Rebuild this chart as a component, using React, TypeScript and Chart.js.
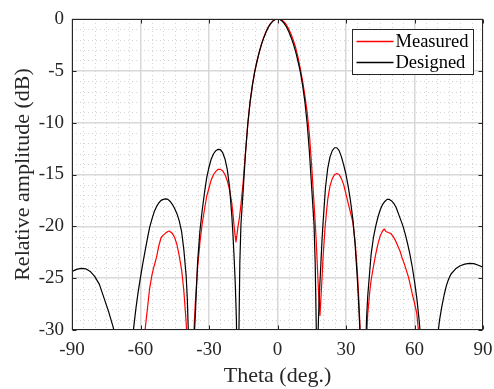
import React, { useEffect, useRef } from "react";
import { Chart, registerables } from "chart.js";

Chart.register(...registerables);

// Designed pattern (black)
const designedTheta = [
  -90, -88, -86, -84, -82, -80, -78, -76, -74, -72, -71, -70, -69, -68, -67.4, -67, -66, -65, -64, -63,
  -62, -61, -60, -59, -58, -57, -56, -55, -54, -53, -52, -51, -50, -49, -48, -47, -46, -45, -44, -43,
  -42, -41, -40, -39.5, -39, -38.5, -37.8, -37.5, -37, -36.5, -36, -35.5, -35, -34, -33, -32, -31, -30,
  -29, -28, -27, -26, -25, -24, -23, -22, -21, -20, -19.5, -19, -18.5, -18, -17.7, -17.4, -17, -16.5,
  -16, -15, -14, -13, -12, -11, -10, -9, -8, -7, -6, -5, -4, -3, -2, -1, 0,
  1, 2, 3, 4, 5, 6, 7, 8, 9, 10, 11, 12, 13, 14, 15, 16, 16.5, 17, 17.3, 17.7, 18, 18.5, 19, 19.5, 20,
  21, 22, 23, 24, 25, 26, 27, 28, 29, 30, 31, 32, 33, 34, 35, 35.5, 36, 36.5, 37, 37.4, 38, 38.5, 39,
  39.5, 40, 41, 42, 43, 44, 45, 46, 47, 48, 49, 50, 51, 52, 53, 54, 55, 56, 57, 58, 59, 60, 61, 62, 63,
  64, 65, 66, 66.5, 67, 68, 69, 70, 71, 72, 73, 74, 75, 76, 78, 80, 82, 84, 86, 88, 90,
];
const designedDb = [
  -24.35, -24.15, -24.05, -24.1, -24.35, -24.85, -25.6, -26.9, -28.2, -29.7, -30.7, -32.2, -34.5, -38.5, -50, -44, -38, -34.5, -32, -29.8,
  -27.9, -26.3, -24.9, -23.6, -22.4, -21.2, -20.1, -19.3, -18.6, -18.1, -17.75, -17.5, -17.4, -17.35, -17.4, -17.6, -17.9, -18.3, -18.8, -19.5,
  -20.5, -22.3, -24.8, -27, -30.5, -35, -50, -40, -34, -30.8, -28.6, -26, -23.5, -20.5, -18.5, -16.8, -15.3, -14.3,
  -13.5, -13.0, -12.7, -12.57, -12.6, -12.9, -13.5, -14.5, -16.2, -19.0, -20.8, -23, -25.5, -29, -33, -50, -32, -23.5,
  -19.8, -16.4, -12.9, -10.1, -8.0, -6.4, -5.1, -4.1, -3.2, -2.45, -1.8, -1.25, -0.8, -0.45, -0.2, -0.05, 0,
  -0.05, -0.2, -0.45, -0.8, -1.25, -1.8, -2.45, -3.2, -4.1, -5.1, -6.4, -8.0, -10.1, -12.9, -16.4, -19.8, -23.5, -30, -50, -31, -28.5, -25.8, -23.6, -21.3, -19.5,
  -16.3, -14.4, -13.3, -12.7, -12.42, -12.42, -12.7, -13.3, -14.1, -15.0, -16.2, -17.6, -19.3, -21.8, -25.2, -27.3, -29.6, -33, -40, -55, -42, -33, -28.9,
  -26.8, -25.4, -22.7, -21.1, -20.0, -19.1, -18.4, -17.9, -17.6, -17.4, -17.4, -17.55, -17.8, -18.2, -18.8, -19.4, -20.0, -20.8, -21.7, -22.7, -23.9, -25.3, -26.9, -29.0, -31.5,
  -35, -39, -46, -55, -46, -38, -33.5, -30.8, -29, -27.7, -26.6, -25.7, -25.05, -24.6, -24.1, -23.8, -23.65, -23.57, -23.6, -23.75, -23.95,
];

// Measured pattern (red)
const measuredTheta = [
  -59, -58.5, -58, -57, -56, -55, -54, -53, -52, -51, -50, -49, -48, -47.4, -46, -45, -44, -43, -42, -41.5,
  -41, -40.5, -40, -39.5, -39, -38.2, -37.5, -37, -36.5, -36, -35, -34, -33, -32, -31, -30, -29, -28, -27, -26,
  -25, -24, -23, -22, -21, -20.5, -20, -19.5, -19, -18.5, -18.2, -17.8, -17.3, -16.7, -16, -15, -14, -13, -12, -11,
  -10, -9, -8, -7, -6, -5, -4, -3, -2, -1, 0,
  1, 2, 3, 4, 5, 6, 7, 8, 9, 10, 11, 12, 13, 14, 15, 16, 16.6, 17, 17.7, 18.2, 18.6, 19, 19.5, 20, 20.8,
  21.5, 22, 23, 24, 25, 26, 27, 28, 29, 30, 31, 32, 33, 34, 35, 35.5, 36, 36.5, 37, 37.8, 38.5, 39, 39.5, 40,
  40.5, 41, 42, 43, 44, 45, 46, 46.8, 47.5, 48.5, 49.7, 50.5, 51.5, 52.5, 53.7, 54.5, 55.5, 56.5, 57.3, 58,
  59, 60, 61, 61.7, 62.3,
];
const measuredDb = [
  -34, -31.5, -30, -28, -26, -24.7, -23.8, -23.0, -21.9, -21.1, -20.85, -20.65, -20.5, -20.45, -20.7, -21.1, -21.8, -22.9, -24.2, -25.2,
  -26.3, -27.75, -29.3, -31.5, -35, -45, -36, -32.5, -29.6, -27.4, -24, -21.6, -19.8, -18.4, -17.1, -16.3, -15.5, -15.0, -14.7, -14.5,
  -14.5, -14.65, -15.0, -15.6, -16.5, -17.1, -17.8, -18.8, -20.0, -21.0, -21.5, -20.9, -20.0, -19.2, -17.9, -15.6, -12.8, -10.1, -8.0, -6.4,
  -5.1, -4.1, -3.2, -2.4, -1.75, -1.2, -0.75, -0.42, -0.18, -0.04, 0,
  -0.02, -0.12, -0.3, -0.6, -1.0, -1.5, -2.1, -2.8, -3.7, -4.8, -6.0, -7.4, -9.0, -11.2, -14.3, -17.8, -20, -21.6, -25, -27.4, -28.6, -27.0, -25, -22.8, -20.2,
  -18.5, -17.4, -16.1, -15.4, -15.0, -14.9, -15.0, -15.4, -16.0, -16.9, -17.8, -18.7, -19.6, -21.5, -24.5, -26.5, -29, -31.5, -36, -45, -36, -31, -28.5, -27.3,
  -26.1, -25.2, -23.9, -22.7, -21.7, -20.9, -20.45, -20.26, -20.5, -20.6, -20.7, -20.95, -21.3, -21.8, -22.4, -23.0, -23.6, -24.3, -24.85, -25.5,
  -26.5, -27.4, -28.4, -30, -33,
];

const xTicks = [-90, -60, -30, 0, 30, 60, 90];
const yTicks = [-30, -25, -20, -15, -10, -5, 0];
const seriesNames = ["Measured", "Designed"];

const FONT = "'Liberation Serif', 'Times New Roman', serif";
const AXIS = "#262626";

const decorPlugin = {
  id: "decor",
  beforeDatasetsDraw(chart: any) {
    const { ctx, chartArea, scales } = chart;
    const { left, right, top, bottom } = chartArea;
    ctx.save();
    ctx.strokeStyle = "#d4d4d4";
    ctx.lineWidth = 1;
    ctx.setLineDash([1, 3]);
    for (let v = -90; v <= 90; v += 5) {
      if (v % 30 === 0) continue;
      const px = Math.round(scales.x.getPixelForValue(v)) + 0.5;
      ctx.beginPath();
      ctx.moveTo(px, top);
      ctx.lineTo(px, bottom);
      ctx.stroke();
    }
    for (let v = -30; v <= 0; v += 1) {
      if (v % 5 === 0) continue;
      const py = Math.round(scales.y.getPixelForValue(v)) + 0.5;
      ctx.beginPath();
      ctx.moveTo(left, py);
      ctx.lineTo(right, py);
      ctx.stroke();
    }
    ctx.restore();
  },
  afterDatasetsDraw(chart: any) {
    const { ctx, chartArea, scales } = chart;
    const { left, right, top, bottom } = chartArea;
    ctx.save();
    ctx.strokeStyle = AXIS;
    ctx.lineWidth = 1;
    ctx.setLineDash([]);
    const L = Math.round(left) + 0.5, R = Math.round(right) - 0.5;
    const T = Math.round(top) + 0.5, B = Math.round(bottom) - 0.5;
    ctx.strokeRect(L, T, R - L, B - T);
    const tl = 4;
    for (const v of xTicks) {
      const px = Math.round(scales.x.getPixelForValue(v)) + 0.5;
      ctx.beginPath();
      ctx.moveTo(px, B); ctx.lineTo(px, B - tl);
      ctx.moveTo(px, T); ctx.lineTo(px, T + tl);
      ctx.stroke();
    }
    for (const v of yTicks) {
      const py = Math.round(scales.y.getPixelForValue(v)) + 0.5;
      ctx.beginPath();
      ctx.moveTo(L, py); ctx.lineTo(L + tl, py);
      ctx.moveTo(R, py); ctx.lineTo(R - tl, py);
      ctx.stroke();
    }
    // legend
    const bw = 121, bh = 45;
    const bx = Math.round(right - 10 - bw) + 0.5;
    const by = Math.round(top + 10) + 0.5;
    ctx.fillStyle = "#ffffff";
    ctx.fillRect(bx, by, bw, bh);
    ctx.strokeStyle = AXIS;
    ctx.strokeRect(bx, by, bw, bh);
    const colors = ["#ff0000", "#000000"];
    seriesNames.forEach((name, i) => {
      const y = by + 12 + i * 21;
      ctx.strokeStyle = colors[i];
      ctx.lineWidth = 1.3;
      ctx.beginPath();
      ctx.moveTo(bx + 4, y);
      ctx.lineTo(bx + 41, y);
      ctx.stroke();
      ctx.fillStyle = "#000000";
      ctx.font = `18.5px ${FONT}`;
      ctx.textAlign = "left";
      ctx.textBaseline = "middle";
      ctx.fillText(name, bx + 43, y + 1);
    });
    ctx.restore();
  },
};

export default function App() {
  const ref = useRef<HTMLCanvasElement | null>(null);
  useEffect(() => {
    if (!ref.current) return;
    const chart = new Chart(ref.current, {
      type: "line",
      data: {
        datasets: [
          {
            label: seriesNames[1],
            data: designedTheta.map((x, i) => ({ x, y: designedDb[i] })),
            borderColor: "#000000",
            borderWidth: 1.2,
            pointRadius: 0,
            tension: 0,
          },
          {
            label: seriesNames[0],
            data: measuredTheta.map((x, i) => ({ x, y: measuredDb[i] })),
            borderColor: "#ff0000",
            borderWidth: 1.2,
            pointRadius: 0,
            tension: 0,
          },
        ],
      },
      options: {
        animation: false,
        responsive: false,
        devicePixelRatio: 1,
        layout: { padding: { top: 19, right: 11, left: 0, bottom: 0 } },
        plugins: { legend: { display: false }, tooltip: { enabled: false } },
        elements: { line: { borderCapStyle: "round", borderJoinStyle: "round" } },
        scales: {
          x: {
            type: "linear",
            min: -90,
            max: 90,
            afterBuildTicks: (s: any) => { s.ticks = xTicks.map((value) => ({ value })); },
            afterFit: (s: any) => { s.height = 59; s.paddingLeft = 0; s.paddingRight = 0; },
            ticks: {
              color: AXIS,
              font: { family: FONT, size: 19 },
              padding: 9,
              maxRotation: 0,
              autoSkip: false,
              callback: (v: any) => String(v),
            },
            grid: { color: "#d8d8d8", lineWidth: 1.5, drawTicks: false },
            border: { display: false },
            title: {
              display: true,
              text: "Theta (deg.)",
              color: AXIS,
              font: { family: FONT, size: 22 },
              padding: { top: 0, bottom: 0 },
            },
          },
          y: {
            type: "linear",
            min: -30,
            max: 0,
            afterBuildTicks: (s: any) => { s.ticks = yTicks.map((value) => ({ value })); },
            afterFit: (s: any) => { s.width = 72; s.paddingTop = 0; s.paddingBottom = 0; },
            ticks: {
              color: AXIS,
              font: { family: FONT, size: 19 },
              padding: 8,
              autoSkip: false,
              callback: (v: any) => String(v),
            },
            grid: { color: "#d8d8d8", lineWidth: 1.5, drawTicks: false },
            border: { display: false },
            title: {
              display: true,
              text: "Relative amplitude (dB)",
              color: AXIS,
              font: { family: FONT, size: 22 },
              padding: { top: 10, bottom: 0 },
            },
          },
        },
      },
      plugins: [decorPlugin],
    });
    return () => chart.destroy();
  }, []);
  return (
    <div style={{ position: "fixed", left: 0, top: 0, width: 494, height: 389, background: "#fff" }}>
      <canvas ref={ref} width={494} height={389} style={{ display: "block" }} />
    </div>
  );
}
